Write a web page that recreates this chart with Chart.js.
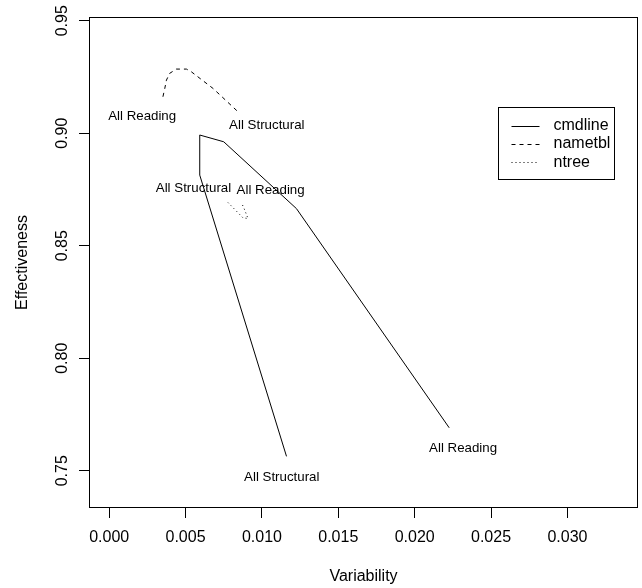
<!DOCTYPE html>
<html><head><meta charset="utf-8">
<script src="https://cdn.jsdelivr.net/npm/chart.js@4"></script>
<style>html,body{margin:0;padding:0;background:#fff;} canvas{display:block;}</style>
</head><body>
<canvas id="c" width="642" height="588"></canvas>
<script>
// ---- data ----
const xTicks = [0, 0.005, 0.010, 0.015, 0.020, 0.025, 0.030];
const xTickLabels = ["0.000","0.005","0.010","0.015","0.020","0.025","0.030"];
const yTicks = [0.75, 0.80, 0.85, 0.90, 0.95];
const yTickLabels = ["0.75","0.80","0.85","0.90","0.95"];

const seriesNames = ["cmdline", "nametbl", "ntree"];

const cmdlineX = [0.01161, 0.00593, 0.00593, 0.00750, 0.01226, 0.02226];
const cmdlineY = [0.7564, 0.8814, 0.8992, 0.8962, 0.8665, 0.7691];

const nametblX = [0.00352, 0.00364, 0.00375, 0.00396, 0.00440, 0.00506, 0.00538, 0.00680, 0.00844];
const nametblY = [0.9162, 0.9199, 0.9236, 0.9266, 0.9285, 0.9285, 0.9273, 0.9199, 0.9095];

const ntreeX = [0.00778, 0.00876, 0.00909, 0.00883, 0.00870];
const ntreeY = [0.8692, 0.8624, 0.8621, 0.8666, 0.8685];

const labelTexts = ["All Reading", "All Structural", "All Structural", "All Reading", "All Structural", "All Reading"];
const labelX = [0.00216, 0.01032, 0.00552, 0.01057, 0.01130, 0.02317];
const labelY = [0.9076, 0.9036, 0.8754, 0.8747, 0.7472, 0.7598];

const xTitle = "Variability";
const yTitle = "Effectiveness";

// ---- build ----
const FONT = "'Liberation Sans', Arial, Helvetica, sans-serif";
const toPts = (xs, ys) => xs.map((x, i) => ({x: x, y: ys[i]}));
const dashes = [[], [4, 4], [1, 3]];
const seriesData = [toPts(cmdlineX, cmdlineY), toPts(nametblX, nametblY), toPts(ntreeX, ntreeY)];

const datasets = seriesNames.map((n, i) => ({
  label: n,
  data: seriesData[i],
  showLine: true,
  borderColor: '#000',
  backgroundColor: '#000',
  borderWidth: 1,
  borderDash: dashes[i],
  pointRadius: 0,
  pointHoverRadius: 0,
  tension: 0,
  fill: false
}));

const boxAndText = {
  id: 'boxAndText',
  afterDraw(chart) {
    const ctx = chart.ctx;
    const a = chart.chartArea;
    const xs = chart.scales.x, ys = chart.scales.y;
    ctx.save();
    // plot box
    ctx.strokeStyle = '#000';
    ctx.lineWidth = 1;
    ctx.setLineDash([]);
    ctx.strokeRect(Math.round(a.left) + 0.5, Math.round(a.top) + 0.5,
                   Math.round(a.right - a.left) - 1, Math.round(a.bottom - a.top) - 1);
    // text labels
    ctx.fillStyle = '#000';
    ctx.font = '13.3px ' + FONT;
    ctx.textAlign = 'center';
    ctx.textBaseline = 'middle';
    labelTexts.forEach((t, i) => {
      ctx.fillText(t, xs.getPixelForValue(labelX[i]), ys.getPixelForValue(labelY[i]));
    });
    // legend (top-right, inside plot)
    const lx = 498.5, ly = 107.5, lw = 116, lh = 72;
    ctx.strokeRect(lx, ly, lw, lh);
    ctx.font = '16px ' + FONT;
    ctx.textAlign = 'left';
    chart.data.datasets.forEach((ds, i) => {
      const yy = ly + 18 + i * 18.4;
      ctx.beginPath();
      ctx.setLineDash(ds.borderDash || []);
      ctx.moveTo(lx + 13, Math.round(yy) + 0.5);
      ctx.lineTo(lx + 41, Math.round(yy) + 0.5);
      ctx.stroke();
      ctx.setLineDash([]);
      ctx.fillText(ds.label, lx + 55, yy);
    });
    ctx.restore();
  }
};

new Chart(document.getElementById('c'), {
  type: 'scatter',
  data: { datasets: datasets },
  options: {
    responsive: false,
    animation: false,
    events: [],
    layout: { padding: { top: 17, right: 4, left: 0, bottom: 0 } },
    plugins: { legend: { display: false }, tooltip: { enabled: false } },
    scales: {
      x: {
        type: 'linear',
        min: -0.00132,
        max: 0.03462,
        afterBuildTicks: s => { s.ticks = xTicks.map(v => ({value: v})); },
        afterFit: s => { s.height = 80; },
        ticks: {
          color: '#000',
          font: { family: FONT, size: 16 },
          padding: 10,
          maxRotation: 0, minRotation: 0,
          autoSkip: false,
          callback: v => xTickLabels[xTicks.indexOf(v)]
        },
        grid: { display: true, drawOnChartArea: false, drawTicks: true, tickLength: 10, color: '#000', lineWidth: 1 },
        border: { display: false },
        title: { display: true, text: xTitle, color: '#000', font: { family: FONT, size: 16 }, padding: { top: 0, bottom: 2 } }
      },
      y: {
        type: 'linear',
        min: 0.73345,
        max: 0.95165,
        afterBuildTicks: s => { s.ticks = yTicks.map(v => ({value: v})); },
        afterFit: s => { s.width = 89; },
        ticks: {
          color: '#000',
          font: { family: FONT, size: 16 },
          padding: 1,
          minRotation: 90, maxRotation: 90,
          crossAlign: 'center',
          autoSkip: false,
          callback: v => yTickLabels[yTicks.indexOf(v)]
        },
        grid: { display: true, drawOnChartArea: false, drawTicks: true, tickLength: 10, color: '#000', lineWidth: 1 },
        border: { display: false },
        title: { display: true, text: yTitle, color: '#000', font: { family: FONT, size: 16 }, padding: { top: 13, bottom: 0 } }
      }
    }
  },
  plugins: [boxAndText]
});
</script>
</body></html>
